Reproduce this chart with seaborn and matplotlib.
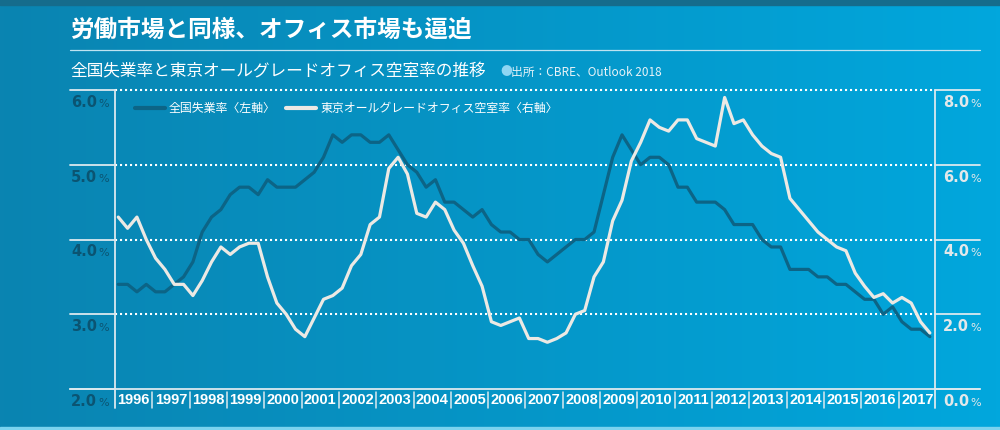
import numpy as np
import matplotlib as mpl
import matplotlib.pyplot as plt
import seaborn as sns
from matplotlib.lines import Line2D
from matplotlib.patches import Rectangle
from matplotlib.colors import LinearSegmentedColormap
from matplotlib.transforms import blended_transform_factory

mpl.use("Agg")
sns.set_theme()
sns.set_style("white")
plt.rcParams["font.family"] = ["Noto Sans CJK JP", "DejaVu Sans"]

years = list(range(1996, 2018))

# quarterly values, 1996Q1 .. 2017Q4
unemployment = [
    3.4, 3.4, 3.3, 3.4, 3.3, 3.3, 3.4, 3.5, 3.7, 4.1, 4.3, 4.4,
    4.6, 4.7, 4.7, 4.6, 4.8, 4.7, 4.7, 4.7, 4.8, 4.9, 5.1, 5.4,
    5.3, 5.4, 5.4, 5.3, 5.3, 5.4, 5.2, 5.0, 4.9, 4.7, 4.8, 4.5,
    4.5, 4.4, 4.3, 4.4, 4.2, 4.1, 4.1, 4.0, 4.0, 3.8, 3.7, 3.8,
    3.9, 4.0, 4.0, 4.1, 4.6, 5.1, 5.4, 5.2, 5.0, 5.1, 5.1, 5.0,
    4.7, 4.7, 4.5, 4.5, 4.5, 4.4, 4.2, 4.2, 4.2, 4.0, 3.9, 3.9,
    3.6, 3.6, 3.6, 3.5, 3.5, 3.4, 3.4, 3.3, 3.2, 3.2, 3.0, 3.1,
    2.9, 2.8, 2.8, 2.7,
]
vacancy = [
    4.6, 4.3, 4.6, 4.0, 3.5, 3.2, 2.8, 2.8, 2.5, 2.9, 3.4, 3.8,
    3.6, 3.8, 3.9, 3.9, 3.0, 2.3, 2.0, 1.6, 1.4, 1.9, 2.4, 2.5,
    2.7, 3.3, 3.6, 4.4, 4.6, 5.9, 6.2, 5.75, 4.7, 4.6, 5.0, 4.8,
    4.25, 3.9, 3.3, 2.75, 1.8, 1.7, 1.8, 1.9, 1.35, 1.35, 1.25, 1.35,
    1.5, 2.0, 2.1, 3.0, 3.4, 4.5, 5.05, 6.1, 6.6, 7.2, 7.0, 6.9,
    7.2, 7.2, 6.7, 6.6, 6.5, 7.8, 7.1, 7.2, 6.8, 6.5, 6.3, 6.2,
    5.1, 4.8, 4.5, 4.2, 4.0, 3.8, 3.7, 3.1, 2.75, 2.45, 2.55, 2.3,
    2.45, 2.3, 1.8, 1.5,
]
quarters = np.arange(len(unemployment))
left_ticks = [2, 3, 4, 5, 6]
right_ticks = [0, 2, 4, 6, 8]
labels = ["全国失業率〈左軸〉", "東京オールグレードオフィス空室率〈右軸〉"]

dark = "#0c6486"
light = "#ece9e4"
left_txt = "#0b5472"
right_txt = "#e3e8ea"
frame = "#dbe9ef"

fig = plt.figure(figsize=(10, 4.3), dpi=100)

# background gradient
bg = fig.add_axes([0, 0, 1, 1], zorder=-5)
cmap = LinearSegmentedColormap.from_list("bg", ["#0a84b1", "#01a7dd"])
bg.imshow(np.linspace(0, 1, 256)[None, :], aspect="auto", cmap=cmap,
          extent=[0, 1, 0, 1])
bg.add_patch(Rectangle((0, 1 - 5 / 430), 1, 5 / 430, color="#156c8c"))
bg.add_patch(Rectangle((0, 0), 1, 3 / 430, color="#7ad3ef"))
bg.set_xlim(0, 1)
bg.set_ylim(0, 1)
bg.axis("off")

ax = fig.add_axes([0.115, 1 - 389 / 430, 0.82, 299 / 430])
ax2 = ax.twinx()
for a in (ax, ax2):
    a.set_facecolor("none")
    a.grid(False)
    for s in a.spines.values():
        s.set_visible(False)

sns.lineplot(x=quarters, y=unemployment, ax=ax, color=dark, lw=2.3, legend=False)
sns.lineplot(x=quarters, y=vacancy, ax=ax2, color=light, lw=2.3, legend=False)
ax.set_xlim(-0.35, 87.55)
ax.set_ylim(2, 6)
ax2.set_ylim(0, 8)
ax.set_xticks([])
ax.set_yticks([])
ax2.set_yticks([])
ax.set_xlabel("")
ax.set_ylabel("")
ax2.set_ylabel("")

# dotted grid
for v in left_ticks[1:]:
    ax.axhline(v, color="white", ls=(0, (1, 1.4)), lw=1.5, clip_on=False, zorder=0.5)

# solid tick segments and axis frame
tr = blended_transform_factory(fig.transFigure, ax.transData)
for v in left_ticks:
    fig.add_artist(Line2D([0.07, 0.115], [v, v], transform=tr, color=frame, lw=1.3))
    fig.add_artist(Line2D([0.935, 0.98], [v, v], transform=tr, color=frame, lw=1.3))
fig.add_artist(Line2D([0.07, 0.98], [2, 2], transform=tr, color=frame, lw=1.3))
for xf in (0.115, 0.935):
    fig.add_artist(Line2D([xf, xf], [1 - 90 / 430, 1 - 408 / 430],
                          transform=fig.transFigure, color=frame, lw=1.3))

# year boxes
trx = blended_transform_factory(ax.transData, fig.transFigure)
for k, yr in enumerate(years):
    x0 = -0.35 + 4 * k
    if k > 0:
        fig.add_artist(Line2D([x0, x0], [1 - 392 / 430, 1 - 408 / 430], transform=trx,
                              color=frame, lw=1.1))
    fig.text(x0 + 2, 1 - 400 / 430, str(yr), transform=trx, ha="center", va="center",
             color="white", fontsize=10.5, fontweight="bold",
             family=["Liberation Sans Narrow", "DejaVu Sans Condensed", "Liberation Sans"])

# tick labels
for v in left_ticks:
    ax.annotate(f"{v:.1f}", xy=(0, v), xycoords=("axes fraction", "data"),
                xytext=(-18, -17), textcoords="offset pixels", ha="right", va="baseline",
                color=left_txt, fontsize=10.5, fontweight="bold",
                family="DejaVu Sans", annotation_clip=False)
    ax.annotate("%", xy=(0, v), xycoords=("axes fraction", "data"),
                xytext=(-17, -17), textcoords="offset pixels", ha="left", va="baseline",
                color=left_txt, fontsize=8, family="DejaVu Sans", annotation_clip=False)
for v in right_ticks:
    ax2.annotate(f"{v:.1f}", xy=(1, v), xycoords=("axes fraction", "data"),
                 xytext=(34, -17), textcoords="offset pixels", ha="right", va="baseline",
                 color=right_txt, fontsize=10.5, fontweight="bold",
                 family="DejaVu Sans", annotation_clip=False)
    ax2.annotate("%", xy=(1, v), xycoords=("axes fraction", "data"),
                 xytext=(35, -17), textcoords="offset pixels", ha="left", va="baseline",
                 color=right_txt, fontsize=8, family="DejaVu Sans", annotation_clip=False)

# legend
handles = [Line2D([], [], color=dark, lw=3), Line2D([], [], color=light, lw=3)]
ax2.legend(handles, labels, ncol=2, loc="upper left", bbox_to_anchor=(0.024, 0.96),
           frameon=False, handlelength=2.5, handletextpad=0.35, columnspacing=0.9,
           fontsize=8.6, labelcolor="white", borderaxespad=0, borderpad=0)

# titles
fig.text(0.07, 1 - 30 / 430, "労働市場と同様、オフィス市場も逼迫", ha="left", va="center",
         color="white", fontsize=17, fontweight="bold")
fig.add_artist(Line2D([0.07, 0.98], [1 - 50 / 430, 1 - 50 / 430],
                      transform=fig.transFigure, color="#bfe3f1", lw=0.9))
fig.text(0.07, 1 - 72 / 430, "全国失業率と東京オールグレードオフィス空室率の推移",
         ha="left", va="center", color="white", fontsize=12)
fig.text(0.5, 1 - 72 / 430, "●", ha="left", va="center", color="#8fd6f3", fontsize=8.5)
fig.text(0.511, 1 - 72 / 430, "出所：CBRE、Outlook 2018", ha="left", va="center",
         color="#e8f3f8", fontsize=8.5)

plt.savefig("out.png", dpi=100)
plt.clf()
